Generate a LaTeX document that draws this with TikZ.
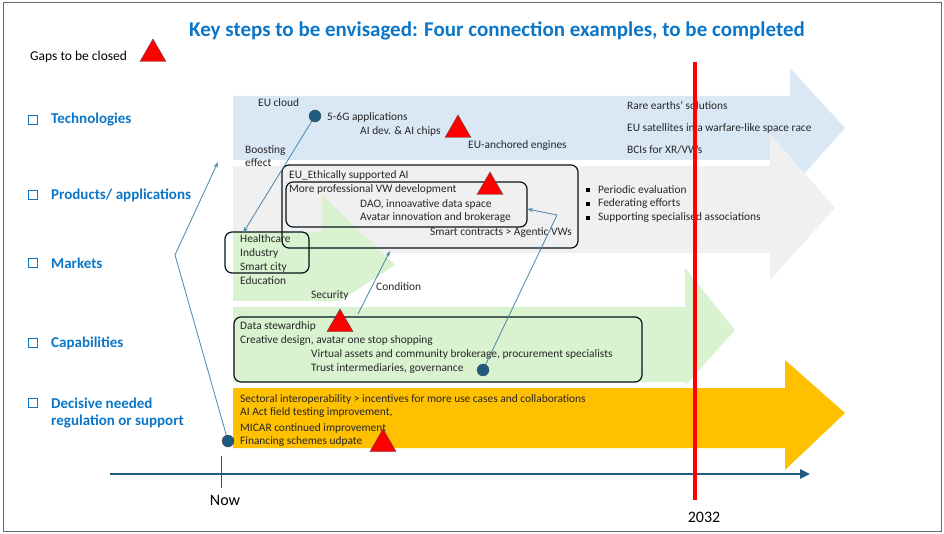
\documentclass[tikz,border=0pt]{standalone}
\usepackage{amssymb}
\usepackage{fontspec}
\setmainfont{Carlito}
\usepackage{xcolor}
\usetikzlibrary{shapes.geometric,positioning,arrows.meta}
\definecolor{techblue}{HTML}{DAE8F5}
\definecolor{prodgray}{HTML}{F0F0F0}
\definecolor{capgreen}{HTML}{D9F2D0}
\definecolor{regorange}{HTML}{FFC000}
\definecolor{titleblue}{HTML}{0B76C8}
\definecolor{axisblue}{HTML}{1F5B80}
\definecolor{linkblue}{HTML}{4A86A8}
\tikzset{
   txt/.style={anchor=west,inner sep=0,font=\fontsize{11.4}{13.5}\selectfont,text=black!85},
   row/.style={anchor=west,inner sep=0,font=\fontsize{15}{18}\selectfont\bfseries,text=titleblue,align=left},
   box/.style={draw=titleblue,line width=1.3,minimum size=9,inner sep=0},
   gap/.style={regular polygon,regular polygon sides=3,fill=red,draw=black!70,minimum size=30,inner sep=0},
   dot/.style={circle,fill=axisblue,draw=black!70,minimum size=12,inner sep=0},
   frame/.style={draw=black!80!axisblue,line width=1.2,rounded corners=7},
   link/.style={linkblue,line width=0.8,-{Stealth[length=6,width=4]}},
 }
\begin{document}
\begin{tikzpicture}[x=1pt,y=-1pt]
      \useasboundingbox (0,0) rectangle (944,534);
      \draw [black!60,line width=1] (3,3) rectangle (941,531);
      % title and legend
      \node (title) at (497,31) [font=\fontsize{21}{24}\selectfont\bfseries,text=titleblue] {Key steps to be envisaged: Four connection examples, to be completed};
      \node (legend) at (30,57) [anchor=west,inner sep=0,font=\fontsize{13.5}{16}\selectfont] {Gaps to be closed};
      \node (g0) at (153,54) [gap] {};
      % rows
      \foreach \y/\lab in {120/Technologies,195/{Products/ applications},263/Markets,343/Capabilities,403/Decisive needed}{
        \node (k\y) at (33,\y) [box] {};
        \node (r\y) at (51,\y) [row] {\lab};
      }
      \node (r421) at (51,421) [row] {regulation or support};
      % big arrows
      \fill [techblue] (233,96) -- (790,96) -- (790,68) -- (845,128) -- (790,190) -- (790,160) -- (233,160) -- cycle;
      \fill [prodgray] (233,166) -- (770,166) -- (770,134) -- (835,208) -- (770,280) -- (770,253) -- (233,253) -- cycle;
      \fill [capgreen] (233,232) -- (322,232) -- (322,195) -- (395,265) -- (340,301) -- (233,301) -- cycle;
      \fill [capgreen] (233,307) -- (685,307) -- (685,268) -- (735,330) -- (685,386) -- (685,382) -- (233,382) -- cycle;
      \fill [regorange] (233,388) -- (785,388) -- (785,360) -- (845,413) -- (785,470) -- (785,448) -- (233,448) -- cycle;
      % time axis
      \coordinate (t0) at (110,474);
      \coordinate (t1) at (810,474);
      \draw [axisblue,line width=2.5,-{Triangle[length=10,width=9]}] (t0) -- (t1);
      \draw [axisblue,line width=1] (221,456) -- (221,488);
      \node (now) at (225,500) [font=\fontsize{16}{18}\selectfont] {Now};
      \node (yr) at (704,517) [font=\fontsize{16}{18}\selectfont] {2032};
      % frames
      \draw [frame] (282,165) rectangle (578,248);
      \draw [frame] (286,182) rectangle (527,227);
      \draw [frame] (225,232) rectangle (309,273);
      \draw [frame] (234,317) rectangle (642,382);
      % technologies
      \node (t1a) at (258,103) [txt] {EU cloud};
      \node (t1b) at (327,117) [txt] {5-6G applications};
      \node (t1c) at (360,131) [txt] {AI dev. \& AI chips};
      \node (t1d) at (468,146) [txt] {EU-anchored engines};
      \node (t1e) at (245,156) [txt,align=left] {Boosting\\effect};
      \node (t1f) at (627,106) [txt] {Rare earths’ solutions};
      \node (t1g) at (627,128) [txt] {EU satellites in a warfare-like space race};
      \node (t1h) at (627,150) [txt] {BCIs for XR/VWs};
      % products
      \node (p1) at (289,175) [txt] {EU\_Ethically supported AI};
      \node (p2) at (289,189) [txt] {More professional VW development};
      \node (p3) at (360,204) [txt] {DAO, innoavative data space};
      \node (p4) at (360,218) [txt] {Avatar innovation and brokerage};
      \node (p5) at (430,233) [txt] {Smart contracts > Agentic VWs};
      \foreach \y/\lab in {190/Periodic evaluation,204/Federating efforts,218/Supporting specialised associations}{
        \node (q\y) at (588,\y) [fill=black,minimum size=4,inner sep=0] {};
        \node (b\y) at (598,\y) [txt] {\lab};
      }
      % markets
      \node (m1) at (240,239) [txt] {Healthcare};
      \node (m2) at (240,253) [txt] {Industry};
      \node (m3) at (240,267) [txt] {Smart city};
      \node (m4) at (240,281) [txt] {Education};
      \node (m5) at (311,295) [txt] {Security};
      \node (m6) at (376,287) [txt] {Condition};
      % capabilities
      \node (c1) at (240,326) [txt] {Data stewardhip};
      \node (c2) at (240,341) [txt] {Creative design, avatar one stop shopping};
      \node (c3) at (311,355) [txt] {Virtual assets and community brokerage, procurement specialists};
      \node (c4) at (311,369) [txt] {Trust intermediaries, governance};
      % regulation
      \node (s1) at (240,399) [txt] {Sectoral interoperability > incentives for more use cases and collaborations};
      \node (s2) at (240,413) [txt] {AI Act field testing improvement,};
      \node (s3) at (240,428) [txt] {MICAR continued improvement};
      \node (s4) at (240,442) [txt] {Financing schemes udpate};
      % 2032 line
      \draw [red,line width=3.5] (695,62) -- (695,500);
      % gaps
      \node (g1) at (458,130) [gap] {};
      \node (g2) at (490,187) [gap] {};
      \node (g3) at (340,324) [gap] {};
      \node (g4) at (383,444) [gap] {};
      % links
      \coordinate (fork) at (175,255);
      \coordinate (techup) at (218,162);
      \coordinate (cond) at (358,314);
      \coordinate (condtip) at (390,251);
      \coordinate (bend) at (557,215);
      \coordinate (vwtip) at (527,209);
      \coordinate (hc) at (243,233);
      \draw [linkblue,line width=0.8] (fork) -- (228,441);
      \draw [link] (fork) -- (techup);
      \draw [link] (315,116) -- (hc);
      \draw [link] (cond) -- (condtip);
      \draw [link] (483,370) -- (bend) -- (vwtip);
      \node (d1) at (315,116) [dot] {};
      \node (d2) at (483,370) [dot] {};
      \node (d3) at (228,441) [dot] {};
\end{tikzpicture}
\end{document}
